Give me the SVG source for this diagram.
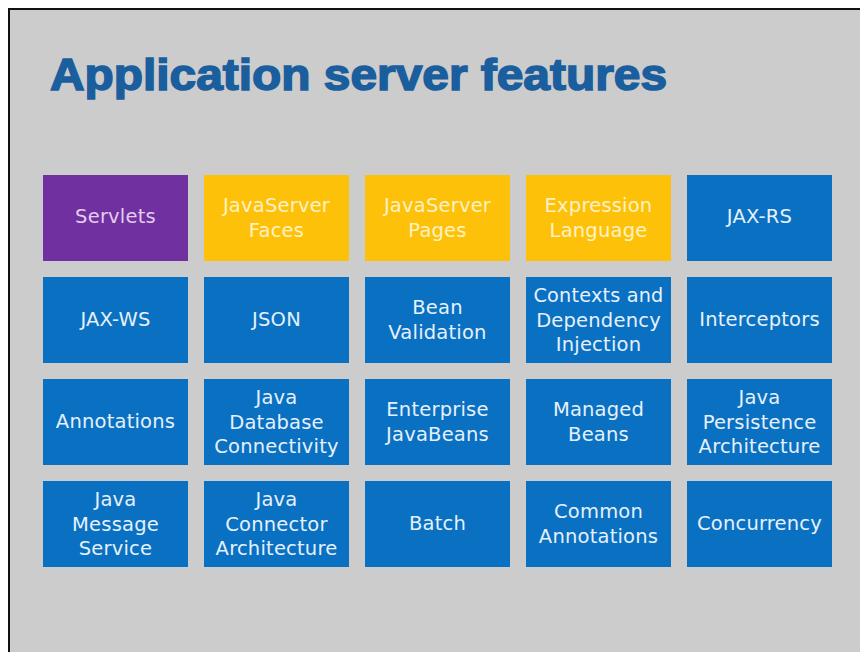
<svg xmlns="http://www.w3.org/2000/svg" width="860" height="652" viewBox="0 0 860 652">
  <style>
    .tile { stroke: none; }
    .blue { fill: #0a70c2; }
    .yellow { fill: #fec10a; }
    .purple { fill: #7030a0; }
    .lbl { font-family: "DejaVu Sans", "Liberation Sans", sans-serif; font-size: 19.5px; letter-spacing: 0.2px; text-anchor: middle; dominant-baseline: central; }
    .lb { fill: #e6f0fb; }
    .ly { fill: #fff1c4; }
    .lp { fill: #e3cdf0; }
    .title { font-family: "Liberation Sans", Arial, sans-serif; font-weight: 700; font-size: 45px; fill: #1b5e9e; stroke: #1b5e9e; stroke-width: 1.6; }
  </style>

  <!-- slide frame -->
  <rect x="0" y="0" width="860" height="652" fill="#ffffff"/>
  <rect x="9" y="9" width="860" height="660" fill="#cccccc" stroke="#111111" stroke-width="2"/>

  <text class="title" x="50" y="90" textLength="617" lengthAdjust="spacingAndGlyphs">Application server features</text>

  <!-- row 1 -->
  <g id="servlets"><rect class="tile purple" x="43" y="175" width="145" height="86"/><text class="lbl lp" x="115.5" y="216">Servlets</text></g>
  <g id="jsf"><rect class="tile yellow" x="204" y="175" width="145" height="86"/><text class="lbl ly" x="276.5" y="205">JavaServer</text><text class="lbl ly" x="276.5" y="230">Faces</text></g>
  <g id="jsp"><rect class="tile yellow" x="365" y="175" width="145" height="86"/><text class="lbl ly" x="437.5" y="205">JavaServer</text><text class="lbl ly" x="437.5" y="230">Pages</text></g>
  <g id="el"><rect class="tile yellow" x="526" y="175" width="145" height="86"/><text class="lbl ly" x="598.5" y="205">Expression</text><text class="lbl ly" x="598.5" y="230">Language</text></g>
  <g id="jaxrs"><rect class="tile blue" x="687" y="175" width="145" height="86"/><text class="lbl lb" x="759.5" y="216">JAX-RS</text></g>

  <!-- row 2 -->
  <g id="jaxws"><rect class="tile blue" x="43" y="277" width="145" height="86"/><text class="lbl lb" x="115.5" y="319">JAX-WS</text></g>
  <g id="json"><rect class="tile blue" x="204" y="277" width="145" height="86"/><text class="lbl lb" x="276.5" y="319">JSON</text></g>
  <g id="beanval"><rect class="tile blue" x="365" y="277" width="145" height="86"/><text class="lbl lb" x="437.5" y="307">Bean</text><text class="lbl lb" x="437.5" y="332">Validation</text></g>
  <g id="cdi"><rect class="tile blue" x="526" y="277" width="145" height="86"/><text class="lbl lb" x="598.5" y="295" textLength="130" lengthAdjust="spacingAndGlyphs">Contexts and</text><text class="lbl lb" x="598.5" y="320">Dependency</text><text class="lbl lb" x="598.5" y="344">Injection</text></g>
  <g id="interceptors"><rect class="tile blue" x="687" y="277" width="145" height="86"/><text class="lbl lb" x="759.5" y="319">Interceptors</text></g>

  <!-- row 3 -->
  <g id="annotations"><rect class="tile blue" x="43" y="379" width="145" height="86"/><text class="lbl lb" x="115.5" y="421">Annotations</text></g>
  <g id="jdbc"><rect class="tile blue" x="204" y="379" width="145" height="86"/><text class="lbl lb" x="276.5" y="397">Java</text><text class="lbl lb" x="276.5" y="422">Database</text><text class="lbl lb" x="276.5" y="446">Connectivity</text></g>
  <g id="ejb"><rect class="tile blue" x="365" y="379" width="145" height="86"/><text class="lbl lb" x="437.5" y="409">Enterprise</text><text class="lbl lb" x="437.5" y="434">JavaBeans</text></g>
  <g id="managedbeans"><rect class="tile blue" x="526" y="379" width="145" height="86"/><text class="lbl lb" x="598.5" y="409">Managed</text><text class="lbl lb" x="598.5" y="434">Beans</text></g>
  <g id="jpa"><rect class="tile blue" x="687" y="379" width="145" height="86"/><text class="lbl lb" x="759.5" y="397">Java</text><text class="lbl lb" x="759.5" y="422">Persistence</text><text class="lbl lb" x="759.5" y="446">Architecture</text></g>

  <!-- row 4 -->
  <g id="jms"><rect class="tile blue" x="43" y="481" width="145" height="86"/><text class="lbl lb" x="115.5" y="499">Java</text><text class="lbl lb" x="115.5" y="524">Message</text><text class="lbl lb" x="115.5" y="548">Service</text></g>
  <g id="jca"><rect class="tile blue" x="204" y="481" width="145" height="86"/><text class="lbl lb" x="276.5" y="499">Java</text><text class="lbl lb" x="276.5" y="524">Connector</text><text class="lbl lb" x="276.5" y="548">Architecture</text></g>
  <g id="batch"><rect class="tile blue" x="365" y="481" width="145" height="86"/><text class="lbl lb" x="437.5" y="523">Batch</text></g>
  <g id="commonann"><rect class="tile blue" x="526" y="481" width="145" height="86"/><text class="lbl lb" x="598.5" y="511">Common</text><text class="lbl lb" x="598.5" y="536">Annotations</text></g>
  <g id="concurrency"><rect class="tile blue" x="687" y="481" width="145" height="86"/><text class="lbl lb" x="759.5" y="523">Concurrency</text></g>

  <!-- no connectors in this layout -->
  <g id="connectors"/>
</svg>
